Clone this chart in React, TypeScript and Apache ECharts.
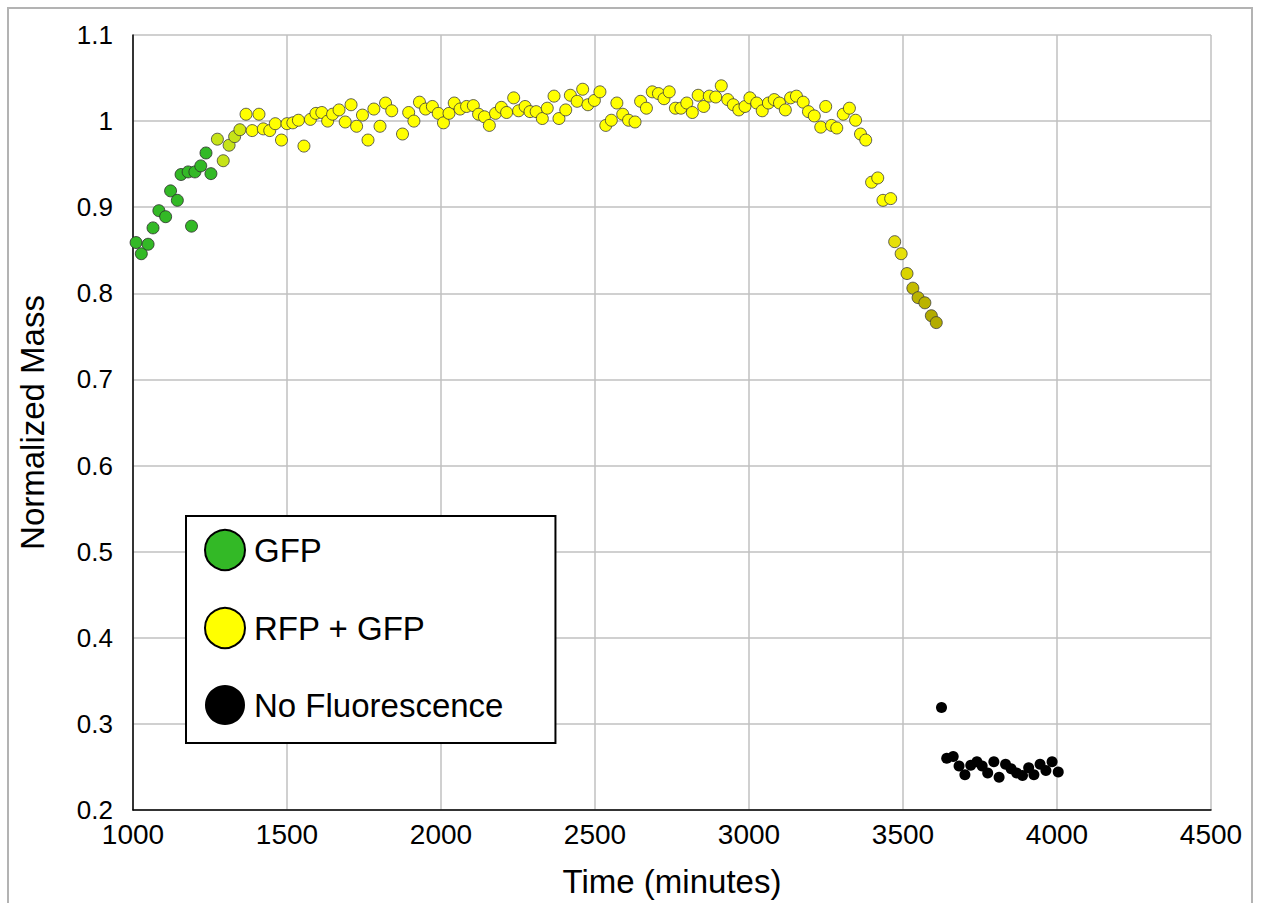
import React, { useEffect, useRef } from "react";
import * as echarts from "echarts";

// ---- Data ----
const gfpTime = [1010, 1027, 1049, 1065, 1084, 1106, 1122, 1144, 1156, 1179, 1190, 1201, 1220, 1237, 1253];
const gfpMass = [0.859, 0.846, 0.857, 0.876, 0.896, 0.889, 0.919, 0.908, 0.938, 0.941, 0.878, 0.941, 0.948, 0.963, 0.939];

const rfpTime = [
  1274, 1293, 1312, 1330, 1347, 1367, 1387, 1409, 1423, 1444, 1462, 1482, 1500, 1519, 1537, 1555, 1576, 1594, 1613, 1632,
  1648, 1669, 1689, 1708, 1726, 1745, 1763, 1782, 1802, 1820, 1840, 1875, 1895, 1912, 1930, 1950, 1972, 1991, 2008, 2026,
  2043, 2062, 2083, 2105, 2122, 2141, 2157, 2177, 2196, 2213, 2236, 2252, 2273, 2289, 2309, 2329, 2345, 2367, 2383, 2405,
  2420, 2442, 2460, 2477, 2498, 2516, 2535, 2553, 2571, 2590, 2609, 2630, 2648, 2667, 2686, 2706, 2724, 2741, 2761, 2779,
  2798, 2816, 2835, 2853, 2871, 2892, 2910, 2931, 2949, 2967, 2987, 3003, 3025, 3043, 3063, 3082, 3099, 3118, 3135, 3154,
  3176, 3193, 3212, 3233, 3249, 3268, 3285, 3306, 3326, 3346, 3362, 3379, 3398, 3418, 3435, 3460, 3473, 3494, 3513, 3532,
  3549, 3571, 3592, 3608,
];
const rfpMass = [
  0.979, 0.954, 0.972, 0.982, 0.99, 1.008, 0.989, 1.008, 0.991, 0.989, 0.997, 0.978, 0.997, 0.998, 1.001, 0.971, 1.002, 1.009, 1.01, 1.0,
  1.008, 1.013, 0.999, 1.019, 0.994, 1.007, 0.978, 1.014, 0.994, 1.021, 1.012, 0.985, 1.01, 1.0, 1.022, 1.014, 1.017, 1.009, 0.998, 1.009,
  1.021, 1.014, 1.017, 1.018, 1.008, 1.005, 0.995, 1.009, 1.016, 1.01, 1.027, 1.012, 1.017, 1.011, 1.011, 1.003, 1.015, 1.029, 1.003, 1.013,
  1.03, 1.023, 1.037, 1.019, 1.024, 1.034, 0.995, 1.001, 1.021, 1.008, 1.001, 0.999, 1.023, 1.015, 1.034, 1.032, 1.026, 1.034, 1.015, 1.015,
  1.021, 1.01, 1.03, 1.017, 1.029, 1.028, 1.041, 1.025, 1.019, 1.013, 1.017, 1.027, 1.021, 1.012, 1.021, 1.025, 1.021, 1.013, 1.027, 1.029,
  1.022, 1.011, 1.006, 0.993, 1.017, 0.995, 0.992, 1.008, 1.015, 1.001, 0.985, 0.978, 0.929, 0.934, 0.908, 0.91, 0.86, 0.846, 0.823, 0.806,
  0.795, 0.789, 0.774, 0.766,
];

const noneTime = [3625, 3642, 3663, 3682, 3701, 3720, 3740, 3757, 3775, 3795, 3812, 3833, 3851, 3869, 3888, 3908, 3925, 3945, 3964, 3984, 4004];
const noneMass = [0.319, 0.26, 0.262, 0.251, 0.241, 0.252, 0.256, 0.251, 0.243, 0.256, 0.238, 0.253, 0.248, 0.243, 0.24, 0.249, 0.241, 0.253, 0.246, 0.256, 0.244];

const seriesNames = ["GFP", "RFP + GFP", "No Fluorescence"];
const xTicks = { min: 1000, max: 4500, interval: 500 };
const yTicks = { min: 0.2, max: 1.1, interval: 0.1 };

// ---- Styles ----
const GREEN = "#33b926";
const YELLOW = "#ffff00";
const BLACK = "#000000";
// colour of a fluorescent point as a function of its time (last stop <= t)
const colorStops: [number, string][] = [
  [0, GREEN],
  [1265, "#c6e318"],
  [1340, "#d2e80e"],
  [1360, YELLOW],
  [3468, "#e6e00a"],
  [3505, "#dad400"],
  [3525, "#c4bc00"],
  [3545, "#bab300"],
  [3585, "#b3ac00"],
];
function colorAt(t: number): string {
  let c = colorStops[0][1];
  for (const [s, col] of colorStops) if (t >= s) c = col;
  return c;
}

const FONT = "Arial, 'Liberation Sans', sans-serif";

export default function App() {
  const ref = useRef<HTMLDivElement>(null);
  useEffect(() => {
    if (!ref.current) return;
    const chart = echarts.init(ref.current, null, { renderer: "svg" });
    const pair = (ts: number[], vs: number[]) => ts.map((t, i) => [t, vs[i]]);
    const pointColor = (p: any) => colorAt(p.value[0]);
    chart.setOption({
      animation: false,
      backgroundColor: "#ffffff",
      graphic: [
        {
          type: "rect",
          shape: { x: 8, y: 8, width: 1244, height: 1000 },
          style: { fill: "none", stroke: "#b3b3b3", lineWidth: 2 },
          silent: true,
          z: 0,
        },
      ],
      grid: { left: 133, right: 50, top: 35, bottom: 91, containLabel: false },
      xAxis: {
        type: "value",
        min: xTicks.min,
        max: xTicks.max,
        interval: xTicks.interval,
        name: "Time (minutes)",
        nameLocation: "middle",
        nameGap: 55,
        nameTextStyle: { fontSize: 33, color: "#000", fontFamily: FONT },
        axisLine: { show: true, onZero: false, lineStyle: { color: "#000", width: 1.5 } },
        axisTick: { show: false },
        axisLabel: {
          fontSize: 28,
          color: "#000",
          fontFamily: FONT,
          margin: 10,
          formatter: (v: number) => String(v),
        },
        splitLine: { show: true, lineStyle: { color: "#c0c0c0", width: 1.5 } },
      },
      yAxis: {
        type: "value",
        min: yTicks.min,
        max: yTicks.max,
        interval: yTicks.interval,
        name: "Normalized Mass",
        nameLocation: "middle",
        nameGap: 84,
        nameTextStyle: { fontSize: 33, color: "#000", fontFamily: FONT },
        axisLine: { show: true, onZero: false, lineStyle: { color: "#000", width: 1.5 } },
        axisTick: { show: false },
        axisLabel: {
          fontSize: 26,
          color: "#000",
          fontFamily: FONT,
          margin: 20,
          formatter: (v: number) => String(+v.toFixed(1)),
        },
        splitLine: { show: true, lineStyle: { color: "#c0c0c0", width: 1.5 } },
      },
      legend: {
        orient: "vertical",
        left: 186,
        top: 516,
        padding: [13, 52, 18, 18],
        itemGap: 36,
        itemWidth: 40,
        itemHeight: 40,
        backgroundColor: "#fff",
        borderColor: "#000",
        borderWidth: 2,
        borderRadius: 0,
        textStyle: { fontSize: 33, color: "#000", fontFamily: FONT, padding: [0, 0, 0, 4] },
        data: [
          { name: seriesNames[0], icon: "circle", itemStyle: { color: GREEN, borderColor: "#000", borderWidth: 2 } },
          { name: seriesNames[1], icon: "circle", itemStyle: { color: YELLOW, borderColor: "#000", borderWidth: 2 } },
          { name: seriesNames[2], icon: "circle", itemStyle: { color: BLACK, borderColor: "#000", borderWidth: 0 } },
        ],
      },
      series: [
        {
          name: seriesNames[0],
          type: "scatter",
          symbol: "circle",
          symbolSize: 12,
          data: pair(gfpTime, gfpMass),
          itemStyle: { color: pointColor, borderColor: "#2a2a2a", borderWidth: 0.8, opacity: 1 },
        },
        {
          name: seriesNames[1],
          type: "scatter",
          symbol: "circle",
          symbolSize: 12,
          data: pair(rfpTime, rfpMass),
          itemStyle: { color: pointColor, borderColor: "#3a3a3a", borderWidth: 0.8, opacity: 1 },
        },
        {
          name: seriesNames[2],
          type: "scatter",
          symbol: "circle",
          symbolSize: 11,
          data: pair(noneTime, noneMass),
          itemStyle: { color: BLACK, opacity: 1 },
        },
      ],
    });
    return () => chart.dispose();
  }, []);
  return (
    <div
      ref={ref}
      style={{ position: "fixed", left: 0, top: 0, width: 1261, height: 903, background: "#fff" }}
    />
  );
}
